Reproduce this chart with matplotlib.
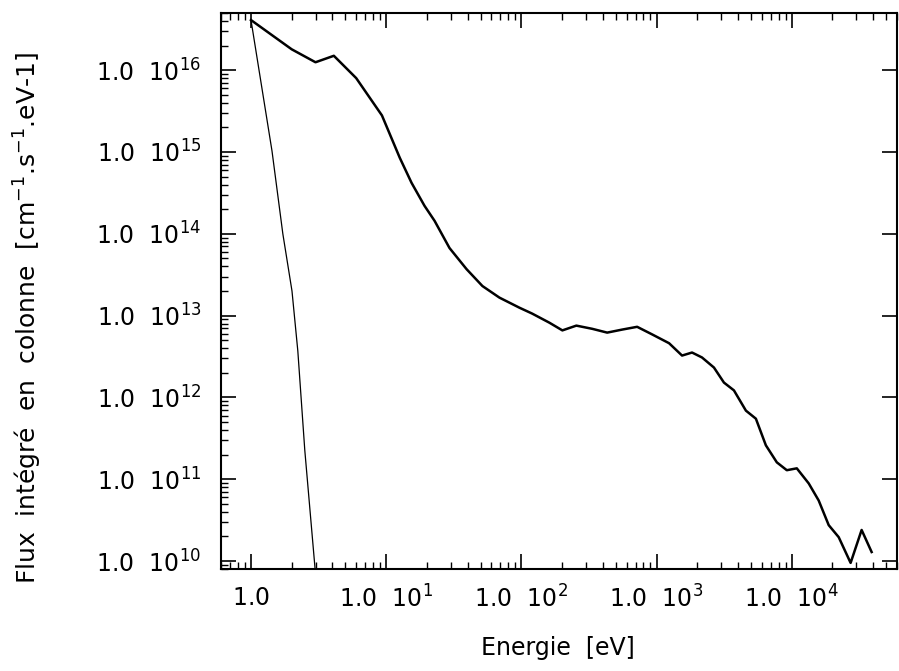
import numpy as np
import matplotlib
matplotlib.use('Agg')
import matplotlib.pyplot as plt
from matplotlib.ticker import LogLocator, FuncFormatter, NullFormatter

plt.rcParams['font.family'] = ['DejaVu Sans']
plt.rcParams['mathtext.fontset'] = 'dejavusans'

# integrated column flux, thick curve
energy_main = [1.0, 2.0, 3.0, 4.1, 6.0, 9.3, 12.6, 15.4, 19.2, 22.8, 29.4, 39.3,
               51.5, 68.8, 96.7, 120, 161, 201, 255, 334, 431, 556, 718, 926,
               1237, 1543, 1829, 2167, 2656, 3148, 3733, 4577, 5425, 6430,
               7748, 9184, 10890, 13340, 15810, 18750, 22230, 27230, 32850, 38950]
flux_main = [4.1e16, 1.8e16, 1.25e16, 1.5e16, 8.0e15, 2.8e15, 8.5e14, 4.2e14,
             2.2e14, 1.44e14, 6.7e13, 3.7e13, 2.3e13, 1.66e13, 1.25e13, 1.06e13,
             8.2e12, 6.6e12, 7.55e12, 6.9e12, 6.2e12, 6.75e12, 7.3e12, 5.9e12,
             4.6e12, 3.25e12, 3.54e12, 3.08e12, 2.32e12, 1.52e12, 1.22e12,
             6.9e11, 5.5e11, 2.6e11, 1.61e11, 1.29e11, 1.36e11, 8.9e10, 5.5e10,
             2.75e10, 1.96e10, 9.5e9, 2.4e10, 1.29e10]

# thin curve (steep drop)
energy_thin = [1.0, 1.43, 1.72, 2.01, 2.22, 2.50, 3.0]
flux_thin = [4.1e16, 1.03e15, 1.0e14, 2.0e13, 3.7e12, 2.26e11, 7.0e9]

xtick_vals = [1.0, 1e1, 1e2, 1e3, 1e4]
ytick_vals = [1e10, 1e11, 1e12, 1e13, 1e14, 1e15, 1e16]


def fmt_x(v, pos):
    e = int(round(np.log10(v)))
    if e == 0:
        return r'$\mathregular{1.0}$'
    return r'$\mathregular{1.0\ \ 10^{%d}}$' % e


def fmt_y(v, pos):
    e = int(round(np.log10(v)))
    return r'$\mathregular{1.0\ \ 10^{%d}}$' % e


fig = plt.figure(figsize=(8.99, 6.71), dpi=100)
ax = fig.add_axes([221/899, 102/671, 676/899, 556/671])

ax.plot(energy_main, flux_main, color='black', lw=1.8)
ax.plot(energy_thin, flux_thin, color='black', lw=0.9)

ax.set_xscale('log')
ax.set_yscale('log')
ax.set_xlim(0.6, 6e4)
ax.set_ylim(8e9, 5e16)

ax.xaxis.set_major_locator(plt.FixedLocator(xtick_vals))
ax.yaxis.set_major_locator(plt.FixedLocator(ytick_vals))
ax.xaxis.set_minor_locator(LogLocator(base=10, subs=np.arange(2, 10), numticks=20))
ax.yaxis.set_minor_locator(LogLocator(base=10, subs=np.arange(2, 10), numticks=20))
ax.xaxis.set_major_formatter(FuncFormatter(fmt_x))
ax.yaxis.set_major_formatter(FuncFormatter(fmt_y))
ax.xaxis.set_minor_formatter(NullFormatter())
ax.yaxis.set_minor_formatter(NullFormatter())

ax.tick_params(which='both', direction='in', top=True, right=True, labelsize=17)
ax.tick_params(which='major', length=11, width=1.2)
ax.tick_params(which='minor', length=5, width=1.0)
ax.tick_params(axis='y', which='minor', right=False)
ax.tick_params(axis='x', which='major', pad=12)
ax.tick_params(axis='y', which='major', pad=14)

for s in ax.spines.values():
    s.set_linewidth(1.5)

ax.set_xlabel('Energie  [eV]', fontsize=17, va='center')
ax.xaxis.set_label_coords((558 - 221) / 676, -(648 - 569) / 556)
ax.set_ylabel(r'Flux  intégré  en  colonne  [cm$\mathregular{^{-1}}$.s$\mathregular{^{-1}}$.eV-1]',
              fontsize=18, va='center')
ax.yaxis.set_label_coords(-(221 - 28) / 676, (569 - 318) / 556)

fig.savefig('out.png', dpi=100)
